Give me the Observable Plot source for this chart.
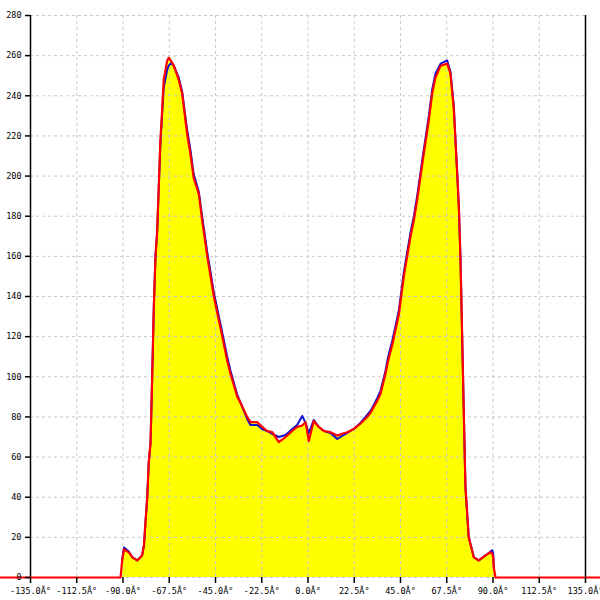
<!DOCTYPE html>
<html>
<head>
<meta charset="utf-8">
<script src="https://cdn.jsdelivr.net/npm/d3@7"></script>
<script src="https://cdn.jsdelivr.net/npm/@observablehq/plot@0.6"></script>
<style>
  html, body { margin: 0; padding: 0; background: #fff; }
  #chart svg { display: block; }
</style>
</head>
<body>
<div id="chart"></div>
<script>
const angles = [-150, -91.2, -90.4, -89.5, -87.2, -85.4, -83.1, -80.7, -79.8, -79.1, -78.2, -77.5, -76.6, -75.8, -75.0, -74.2, -73.4, -71.8, -70.9, -70.2, -68.5, -67.7, -66.4, -65.3, -62.9, -61.2, -58.8, -57.2, -55.6, -53.1, -51.5, -49.0, -45.8, -41.7, -39.3, -37.7, -34.4, -32.8, -29.6, -28.0, -24.7, -22.3, -19.9, -17.4, -14.2, -10.9, -7.7, -5.3, -2.8, -1.2, 0.4, 2.8, 5.25, 7.7, 10.9, 14.2, 16.6, 19.1, 22.3, 25.5, 28.8, 30.4, 32.0, 33.7, 35.3, 37.7, 39.0, 41.0, 44.2, 46.6, 49.9, 51.5, 53.1, 56.3, 58.8, 60.4, 62.0, 64.5, 67.7, 69.3, 70.9, 71.75, 72.6, 73.4, 74.2, 75.0, 75.8, 76.6, 78.2, 80.7, 83.1, 86.35, 88.8, 89.6, 90.1, 90.4, 91.2, 150];
const redValues = [0, 0, 8.5, 14, 12.5, 10, 8.5, 11, 16, 27, 40, 57, 67, 100, 135, 160, 172, 218, 234, 248, 257.5, 259, 257, 255, 248, 241, 221, 211, 199, 191, 178, 160, 140, 120, 108, 101.5, 90, 87, 80, 77.4, 77.4, 75, 73, 72.4, 67.4, 70, 73, 75, 75.7, 77.4, 68, 78, 75, 73, 72.4, 70.7, 71.6, 72.4, 74, 76.6, 80, 82, 85, 88, 91.5, 101.5, 108, 116, 131, 150, 170, 178, 188, 211, 228, 241, 249, 255, 256, 251, 234, 218, 201, 184.5, 158, 120, 82, 45, 20, 10, 8.5, 11, 12.6, 12, 10, 5, 0, 0];
const blueValues = [0, 0, 9, 15, 13, 10, 8.5, 11, 16, 27, 40, 57, 67, 100, 135, 160, 172, 216, 232, 244, 253, 255, 256.5, 255, 249, 242, 223, 213, 201, 192, 180, 162, 142, 122, 110, 103, 91, 87, 79, 76, 76, 74, 73, 71.5, 70, 71, 74, 76, 80.5, 77, 72, 78.5, 75, 73, 72, 69, 70.5, 72, 74, 77, 81, 83, 86, 89.5, 93, 103, 110, 118, 133, 152, 172, 180, 190, 213, 230, 243, 251, 256, 257.6, 252, 235, 218, 201, 184.5, 158, 120, 82, 45, 20, 10, 8.5, 11, 13, 13.5, 12, 5, 0, 0];
const xTicks = [-135, -112.5, -90, -67.5, -45, -22.5, 0, 22.5, 45, 67.5, 90, 112.5, 135];
const yTicks = [0, 20, 40, 60, 80, 100, 120, 140, 160, 180, 200, 220, 240, 260, 280];

const red = angles.map((a, i) => ({x: a, y: redValues[i]}));
// blue trace only where it is measured (the baseline outside is the red trace)
const blue = angles.map((a, i) => ({x: a, y: blueValues[i]})).filter(d => Math.abs(d.x) < 91);

const chart = Plot.plot({
  width: 600,
  height: 600,
  marginLeft: 30,
  marginRight: 15,
  marginTop: 15,
  marginBottom: 23,
  style: {fontFamily: "'DejaVu Sans Mono', monospace", fontSize: "8.5px", color: "#000", background: "#fff"},
  x: {domain: [-135, 135], label: null},
  y: {domain: [0, 280], label: null},
  marks: [
    Plot.areaY(red, {x: "x", y: "y", fill: "#ffff00"}),
    Plot.gridX(xTicks, {stroke: "#c8c8c8", strokeOpacity: 1, strokeDasharray: "3,3"}),
    Plot.gridY(yTicks, {stroke: "#c8c8c8", strokeOpacity: 1, strokeDasharray: "3,3"}),
    Plot.ruleX([-135, 135], {stroke: "#000", strokeWidth: 1.5}),
    Plot.line(blue, {x: "x", y: "y", stroke: "#1010d0", strokeWidth: 2}),
    Plot.line(red, {x: "x", y: "y", stroke: "#ff0000", strokeWidth: 2.2}),
    Plot.axisX(xTicks, {tickSize: 6, tickPadding: 4, stroke: "#000", strokeWidth: 1.5, tickFormat: d => d.toFixed(1) + "Â°", fill: "#000"}),
    Plot.axisY(yTicks, {tickSize: 5, tickPadding: 4, stroke: "#000", strokeWidth: 1.5, fill: "#000"})
  ]
});
document.getElementById("chart").appendChild(chart);
</script>
</body>
</html>
